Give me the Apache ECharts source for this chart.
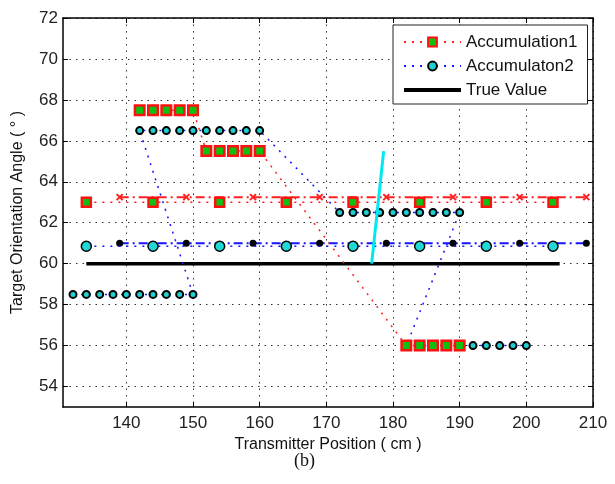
<!DOCTYPE html>
<html>
<head>
<meta charset="utf-8">
<script src="https://cdn.jsdelivr.net/npm/echarts@6/dist/echarts.min.js"></script>
<style>
	html, body { margin: 0; padding: 0; background: #fff; }
	#chart { width: 615px; height: 484px; }
</style>
</head>
<body>
<div id="chart"></div>
<script>
// 刻度
var xTicks = [140, 150, 160, 170, 180, 190, 200, 210];
var yTicks = [54, 56, 58, 60, 62, 64, 66, 68, 70, 72];

// Accumulation1 (红色方块)
var acc1X = [142, 144, 146, 148, 150, 152, 154, 156, 158, 160, 182, 184, 186, 188, 190];
var acc1Y = [67.5, 67.5, 67.5, 67.5, 67.5, 65.5, 65.5, 65.5, 65.5, 65.5, 56, 56, 56, 56, 56];

// Accumulaton2 (蓝色圆点)
var acc2X = [132, 134, 136, 138, 140, 142, 144, 146, 148, 150,
	142, 144, 146, 148, 150, 152, 154, 156, 158, 160,
	172, 174, 176, 178, 180, 182, 184, 186, 188, 190,
	182, 184, 186, 188, 190, 192, 194, 196, 198, 200];
var acc2Y = [58.5, 58.5, 58.5, 58.5, 58.5, 58.5, 58.5, 58.5, 58.5, 58.5,
	66.5, 66.5, 66.5, 66.5, 66.5, 66.5, 66.5, 66.5, 66.5, 66.5,
	62.5, 62.5, 62.5, 62.5, 62.5, 62.5, 62.5, 62.5, 62.5, 62.5,
	56, 56, 56, 56, 56, 56, 56, 56, 56, 56];

// 真值
var trueX = [134, 205];
var trueY = [60, 60];

// 均值 1
var mean1X = [134, 144, 154, 164, 174, 184, 194, 204];
var mean1Y = [63, 63, 63, 63, 63, 63, 63, 63];
var est1X = [139, 149, 159, 169, 179, 189, 199, 209];
var est1Y = [63.25, 63.25, 63.25, 63.25, 63.25, 63.25, 63.25, 63.25];

// 均值 2
var mean2X = [134, 144, 154, 164, 174, 184, 194, 204];
var mean2Y = [60.85, 60.85, 60.85, 60.85, 60.85, 60.85, 60.85, 60.85];
var est2X = [139, 149, 159, 169, 179, 189, 199, 209];
var est2Y = [61, 61, 61, 61, 61, 61, 61, 61];

// 青色线段
var cyanX = [176.8, 178.6];
var cyanY = [60, 65.5];

function zip(xs, ys) {
	return xs.map(function (x, i) { return [x, ys[i]]; });
}

var font = 'Liberation Sans, Arial, sans-serif';
var gridLine = { show: true, lineStyle: { color: '#333', width: 1, type: [1.5, 5] } };
var frame = { show: true, onZero: false, lineStyle: { color: '#000', width: 1.5 } };
var ticks = { show: true, inside: true, length: 5, lineStyle: { color: '#000' } };

var myChart = echarts.init(document.getElementById('chart'));
myChart.setOption({
	animation: false,
	backgroundColor: '#fff',
	grid: { left: 63, right: 22, top: 18, bottom: 77 },
	xAxis: [{
		type: 'value', min: 130.5, max: 210, position: 'bottom',
		name: 'Transmitter Position ( cm )', nameLocation: 'middle', nameGap: 26,
		nameTextStyle: { fontFamily: font, fontSize: 16, color: '#111' },
		axisLine: frame,
		axisTick: Object.assign({ customValues: xTicks }, ticks),
		axisLabel: { customValues: xTicks, fontFamily: font, fontSize: 17, color: '#222', margin: 8 },
		splitLine: gridLine
	}, {
		type: 'value', min: 130.5, max: 210, position: 'top',
		axisLine: frame,
		axisTick: Object.assign({ customValues: xTicks }, ticks),
		axisLabel: { show: false },
		splitLine: { show: false }
	}],
	yAxis: [{
		type: 'value', min: 53, max: 72, position: 'left',
		name: 'Target Orientation Angle ( ° )', nameLocation: 'middle', nameGap: 37, nameRotate: 90,
		nameTextStyle: { fontFamily: font, fontSize: 16, color: '#111' },
		axisLine: frame,
		axisTick: Object.assign({ customValues: yTicks }, ticks),
		axisLabel: { customValues: yTicks, fontFamily: font, fontSize: 17, color: '#222', margin: 5 },
		splitLine: gridLine
	}, {
		type: 'value', min: 53, max: 72, position: 'right',
		axisLine: frame,
		axisTick: Object.assign({ customValues: yTicks }, ticks),
		axisLabel: { show: false },
		splitLine: { show: false }
	}],
	legend: {
		data: ['Accumulation1', 'Accumulaton2',
			{ name: 'True Value', itemStyle: { opacity: 0 }, lineStyle: { width: 4, color: '#000' } }],
		orient: 'vertical',
		left: 393, top: 25,
		padding: [7, 10, 4, 9],
		itemWidth: 57, itemHeight: 11, itemGap: 4,
		backgroundColor: '#fff',
		borderColor: '#222', borderWidth: 1, borderRadius: 0,
		textStyle: { fontFamily: font, fontSize: 17, color: '#111', lineHeight: 20 }
	},
	series: [
		{
			name: 'Accumulaton2', type: 'line', data: zip(acc2X, acc2Y),
			symbol: 'circle', symbolSize: 7,
			lineStyle: { color: '#1515ff', width: 1.5, type: [2, 6] },
			itemStyle: { color: '#20d0d0', borderColor: '#000', borderWidth: 2 },
			z: 3
		},
		{
			name: 'Accumulation1', type: 'line', data: zip(acc1X, acc1Y),
			symbol: 'rect', symbolSize: 9.5,
			lineStyle: { color: '#ff2020', width: 1.5, type: [2, 6] },
			itemStyle: { color: '#10c010', borderColor: '#ff1010', borderWidth: 2.5 },
			z: 4
		},
		{
			name: 'True Value', type: 'line', data: zip(trueX, trueY),
			symbol: 'none',
			lineStyle: { color: '#000', width: 3.5 },
			itemStyle: { color: '#000' },
			z: 2
		},
		{
			name: 'mean1', type: 'line', data: zip(mean1X, mean1Y),
			symbol: 'rect', symbolSize: 9,
			lineStyle: { color: '#ff2020', width: 1.5, type: [2, 6] },
			itemStyle: { color: '#10c010', borderColor: '#ff1010', borderWidth: 2.5 },
			z: 4
		},
		{
			name: 'est1', type: 'line', data: zip(est1X, est1Y),
			symbol: 'path://M0,0L10,10M10,0L0,10', symbolSize: 6,
			lineStyle: { color: '#ff2020', width: 2, type: [9, 4, 2, 4] },
			itemStyle: { color: '#ff2020', borderColor: '#ff2020', borderWidth: 2 },
			z: 3
		},
		{
			name: 'mean2', type: 'line', data: zip(mean2X, mean2Y),
			symbol: 'circle', symbolSize: 10,
			lineStyle: { color: '#1515ff', width: 1.5, type: [2, 6] },
			itemStyle: { color: '#20d8d8', borderColor: '#000', borderWidth: 1.5 },
			z: 4
		},
		{
			name: 'est2', type: 'line', data: zip(est2X, est2Y),
			symbol: 'circle', symbolSize: 7,
			lineStyle: { color: '#1515ff', width: 2, type: [9, 4, 2, 4] },
			itemStyle: { color: '#000' },
			z: 3
		},
		{
			name: 'cyan', type: 'line', data: zip(cyanX, cyanY),
			symbol: 'none',
			lineStyle: { color: '#00e8f0', width: 3 },
			z: 5
		}
	],
	graphic: [{
		type: 'text', left: 294, top: 452,
		style: { text: '(b)', font: '18px "Liberation Serif", "Times New Roman", serif', fill: '#111' }
	}]
});
</script>
</body>
</html>
